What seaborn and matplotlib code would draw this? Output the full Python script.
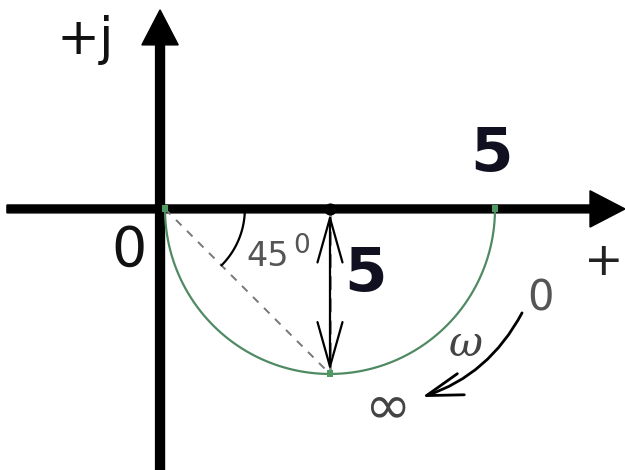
import numpy as np
import pandas as pd
import matplotlib
matplotlib.use("Agg")
import matplotlib.pyplot as plt
import seaborn as sns

# ── Nyquist diagram data (units: one unit of the real axis) ─────────
CENTER_RE = 5.0
RADIUS = 5.0
point_re = [0.0, 5.0, 10.0]       # omega = inf, 45 deg point, omega = 0
point_im = [0.0, -5.0, 0.0]
angle_deg = 45

sns.set_theme(style="white")
plt.rcParams["font.family"] = ["DejaVu Sans"]

fig = plt.figure(figsize=(6.25, 4.7), dpi=100)
ax = fig.add_axes([0, 0, 1, 1])
ax.set_xlim(-5.0, 13.94)
ax.set_ylim(-7.91, 6.33)
ax.axis("off")

# ── Lower half circle ───────────────────────────────────────────────
theta = np.linspace(np.pi, 2 * np.pi, 200)
circle = pd.DataFrame({
    "re": CENTER_RE + RADIUS * np.cos(theta),
    "im": RADIUS * np.sin(theta),
})
sns.lineplot(data=circle, x="re", y="im", sort=False, color="#4f8a63",
             linewidth=1.6, ax=ax, zorder=3)
sns.scatterplot(x=point_re, y=point_im, color="#4e9a62", marker="s", s=25,
                edgecolor="none", ax=ax, zorder=4)

# ── Axes with arrows ────────────────────────────────────────────────
ax.arrow(-4.79, 0, 13.94 + 4.79, 0, width=0.24, head_width=1.1, head_length=1.06,
         length_includes_head=True, color="black", zorder=2)
ax.arrow(-0.15, -7.91, 0, 6.03 + 7.91, width=0.27, head_width=1.1, head_length=1.06,
         length_includes_head=True, color="black", zorder=2)

# ── Radius and 45 degree line ───────────────────────────────────────
ax.plot([point_re[0], point_re[1]], [point_im[0], point_im[1]], color="#777777",
        linestyle=(0, (4, 4)), linewidth=1.4, zorder=2)
ax.plot([CENTER_RE, point_re[1]], [0, point_im[1]], color="#888888",
        linestyle=(0, (5, 3)), linewidth=2.0, zorder=2)
ax.annotate("", xy=(CENTER_RE, -0.15), xytext=(point_re[1], point_im[1] + 0.1),
            arrowprops=dict(arrowstyle="<->,head_length=3.2,head_width=0.9",
                            color="black", lw=1.6, mutation_scale=10,
                            shrinkA=0, shrinkB=0), zorder=3)
ax.scatter([CENTER_RE], [0], s=60, color="black", zorder=5)

# angle mark
phi = np.linspace(0, -np.radians(angle_deg), 30)
ax.plot(2.42 * np.cos(phi), 2.42 * np.sin(phi), color="black", lw=1.6)

# ── Labels ──────────────────────────────────────────────────────────
ax.text(-2.42, 5.12, "+j", fontsize=37, ha="center", va="center", color="#111111")
ax.text(-1.09, -1.27, "0", fontsize=40, ha="center", va="center", color="#111111")
ax.text(13.3, -1.61, "+", fontsize=34, ha="center", va="center", color="#222222")
ax.text(9.88, 1.64, "5", fontsize=44, fontweight="bold", ha="center", va="center",
        color="#101020")
ax.text(6.09, -2.0, "5", fontsize=44, fontweight="bold", ha="center", va="center",
        color="#101020")
ax.text(3.12, -1.45, str(angle_deg), fontsize=24, ha="center", va="center",
        color="#555555")
ax.text(4.15, -1.12, "0", fontsize=19, ha="center", va="center", color="#555555")
ax.text(9.12, -4.09, "ω", fontsize=30, family="DejaVu Serif", style="italic",
        ha="center", va="center", color="#444444")
ax.text(11.39, -2.70, "0", fontsize=30, ha="center", va="center", color="#555555")
ax.text(6.76, -6.03, "∞", fontsize=40, ha="center", va="center", color="#444444")

# omega direction arrow
ax.annotate("", xy=(7.79, -5.70), xytext=(10.82, -3.15),
            arrowprops=dict(arrowstyle="->,head_length=2.6,head_width=0.8",
                            color="black", lw=2.0, mutation_scale=10,
                            connectionstyle="arc3,rad=-0.2",
                            shrinkA=0, shrinkB=0))

fig.savefig("out.png", dpi=100)
